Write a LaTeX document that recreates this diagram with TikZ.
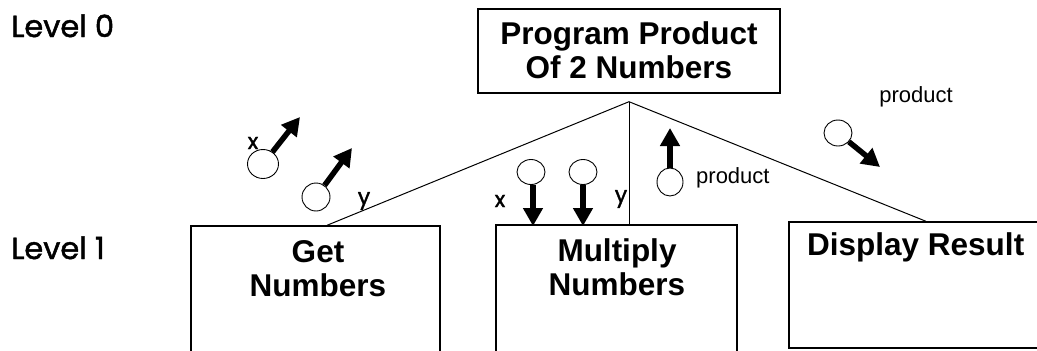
\documentclass[tikz,border=0pt]{standalone}
\usepackage{fontspec}
\setmainfont{Liberation Sans}
\newfontfamily\gothic[FakeBold=1.6]{Poppins}
\usetikzlibrary{arrows.meta,shapes.geometric,calc}
\begin{document}
\begin{tikzpicture}[x=1pt,y=-1pt,
  box/.style={draw,line width=1.4pt,inner sep=0pt},
  btext/.style={font=\fontsize{31.5}{34}\selectfont\bfseries,align=center,inner sep=0pt},
  lvl/.style={font=\gothic\fontsize{30.5}{32}\selectfont,anchor=base west,inner sep=0pt},
  var/.style={font=\gothic\fontsize{22}{23}\selectfont,inner sep=0pt},
  plab/.style={font=\fontsize{22}{24}\selectfont,inner sep=0pt},
  blob/.style={draw,ellipse,line width=0.9pt,minimum width=28pt,minimum height=28pt,inner sep=0pt},
  arr/.style={line width=5.5pt,-{Triangle[length=18pt,width=19pt]}},
  link/.style={line width=1pt}]
\useasboundingbox (0,0) rectangle (1037,351);
\clip (0,0) rectangle (1037,351);
% level labels
\node[lvl] (l0) at (11,37) {Level 0};
\node[lvl] (l1) at (11,259) {Level 1};
% boxes
\node[box,minimum width=302pt,minimum height=84pt] (top) at (629,51) {};
\node[btext] (toptxt) at (629,50) {Program Product\\Of 2 Numbers};
\node[box,minimum width=249pt,minimum height=160pt] (get) at (315.5,306) {};
\node[btext] (gettxt) at (318,269) {Get\\Numbers};
\node[box,minimum width=241pt,minimum height=160pt] (mul) at (616.5,305) {};
\node[btext] (multxt) at (617,267) {Multiply\\Numbers};
\node[box,minimum width=271pt,minimum height=126pt] (dis) at (924.5,285) {};
\node[btext,anchor=base west] (distxt) at (807,255) {Display Result};
% structure lines
\coordinate (apex) at ($(top.south)+(0,8)$);
\coordinate (getc) at ($(get.north)+(11.5,0)$);
\coordinate (disc) at ($(dis.north)+(1.5,0)$);
\draw[link] (apex) -- (getc);
\draw[link] (apex) -- (apex |- mul.north);
\draw[link] (apex) -- (disc);
% data couples: Get Numbers
\node[blob,minimum width=31pt,minimum height=29pt] (gx) at (263,164) {};
\node[var] (gxl) at (253,143) {x};
\coordinate (gxt) at (300,117);
\draw[arr] (gx) -- (gxt);
\node[blob] (gy) at (316,197) {};
\node[var] (gyl) at (364,201) {y};
\coordinate (gyt) at (352,148);
\draw[arr] (gy) -- (gyt);
% Multiply
\node[blob,minimum height=25pt] (mx) at (531,172) {};
\node[var] (mxl) at (500,201) {x};
\coordinate (mxt) at (533,226);
\draw[arr] (mx.south -| mxt) -- (mxt);
\node[blob,minimum height=25pt] (my) at (583,172) {};
\node[var] (myl) at (621,199) {y};
\coordinate (myt) at (583,226);
\draw[arr] (my) -- (myt);
\node[blob,minimum width=26pt] (mp) at (670,182) {};
\node[plab,anchor=west] (mpl) at (696,178) {product};
\coordinate (mpt) at (670,128);
\draw[arr] (mp) -- (mpt);
% Display
\node[blob,minimum height=26pt] (dp) at (838,133) {};
\node[plab] (dpl) at (916,97) {product};
\coordinate (dpt) at (880,167);
\draw[arr] (dp) -- (dpt);
\end{tikzpicture}
\end{document}
